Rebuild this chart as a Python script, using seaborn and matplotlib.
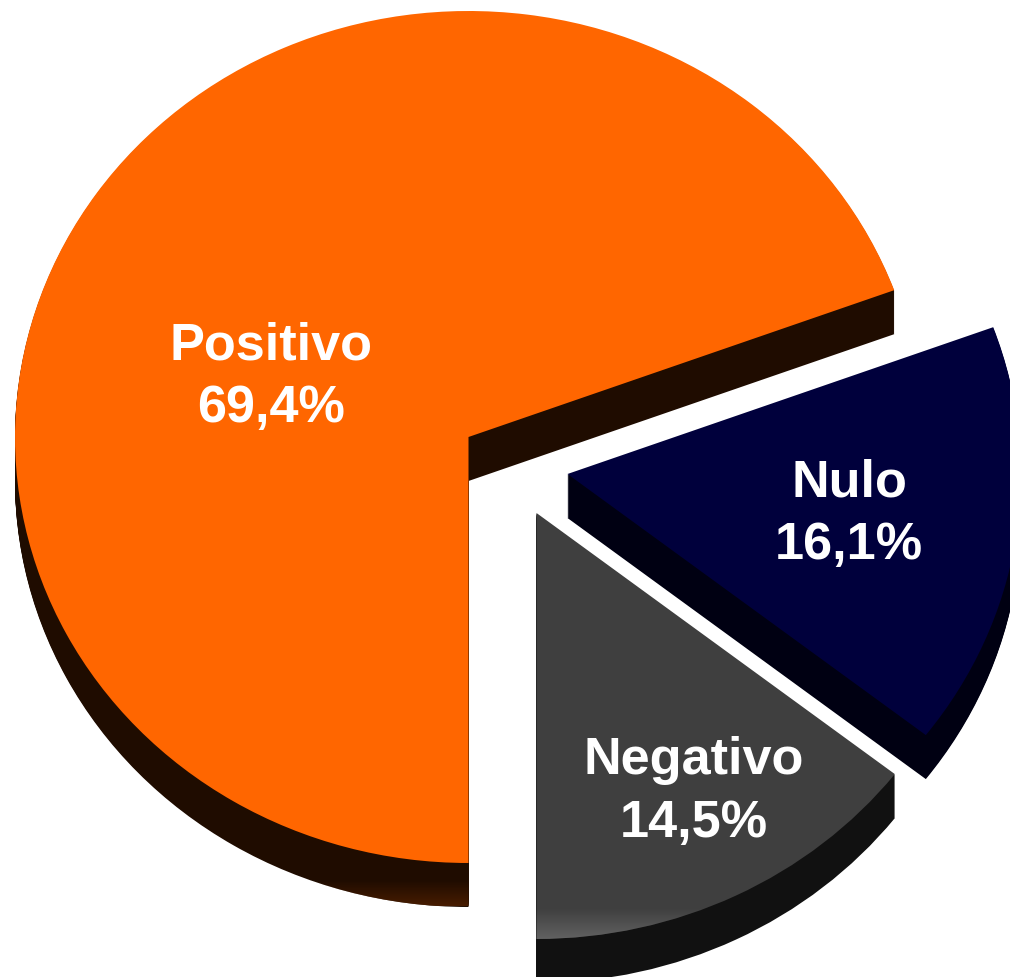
import numpy as np
import seaborn as sns
import matplotlib.pyplot as plt
from matplotlib.patches import Wedge

categories = ['Positivo', 'Nulo', 'Negativo']
shares = [69.4, 16.1, 14.5]
share_labels = ['69,4%', '16,1%', '14,5%']
top_colors = ['#FF6600', '#00003C', '#3F3F3F']
wall_colors = ['#1F0C00', '#000012', '#111111']

# pie is stretched to an ellipse, everything below is in pixels of the reference
W, H = 1010, 977
CX, CY = 468.5, 437
RX, RY = 453.5, 426
DEPTH = 44
slice_shift = [(0, 0), (99, 37), (68, 76)]
label_pos = [(271, 377), (849, 514), (694, 792)]


def to_x(px):
  return (px - CX) / RX


def to_y(py):
  return (CY - py) / RY


def fade_band(ax, y0, y1, rgb, alpha, clip):
  # little glow at the bottom edge of a slice, clipped to that slice
  ramp = np.zeros((64, 2, 4))
  ramp[..., :3] = rgb
  ramp[..., 3] = np.linspace(0, alpha, 64)[:, None]
  im = ax.imshow(ramp, extent=(to_x(0), to_x(W), to_y(y1), to_y(y0)), origin='upper',
                 aspect='auto', interpolation='bilinear', zorder=clip.get_zorder() + 0.5)
  im.set_clip_path(clip)


def main():
  sns.set_theme(style='white')
  plt.rcParams['font.family'] = ['Liberation Sans', 'DejaVu Sans']

  fig = plt.figure(figsize=(W / 100, H / 100), dpi=100)
  ax = fig.add_axes([0, 0, 1, 1])

  wedges, _ = ax.pie(shares, colors=sns.color_palette(top_colors), startangle=-90,
                     counterclock=False, wedgeprops={'linewidth': 0})

  for i, w in enumerate(wedges):
    dx, dy = slice_shift[i]
    cx, cy = to_x(CX + dx), to_y(CY + dy)
    w.set_center((cx, cy))
    w.set_zorder(10 + i * 10 + 5)
    # side wall is just the slice stacked downwards
    bottom = None
    for step in np.arange(DEPTH, 0, -1):
      bottom_w = Wedge((cx, cy - step / RY), 1, w.theta1, w.theta2, facecolor=wall_colors[i],
                       linewidth=0, zorder=10 + i * 10)
      ax.add_patch(bottom_w)
      if bottom is None:
        bottom = bottom_w
    if i == 0:
      fade_band(ax, 880, 906, (0.30, 0.12, 0.0), 0.9, bottom)
    if i == 2:
      fade_band(ax, 908, 939, (0.55, 0.55, 0.55), 0.45, w)

  for i, name in enumerate(categories):
    px, py = label_pos[i]
    ax.text(to_x(px), to_y(py), name + '\n' + share_labels[i], ha='center', va='center',
            color='white', fontsize=37.6, fontweight='bold', linespacing=1.36, zorder=60)

  ax.set_aspect('auto')
  ax.set_xlim(to_x(0), to_x(W))
  ax.set_ylim(to_y(H), to_y(0))
  ax.axis('off')
  fig.savefig('out.png', dpi=100, facecolor='white')


if __name__ == '__main__':
  main()
